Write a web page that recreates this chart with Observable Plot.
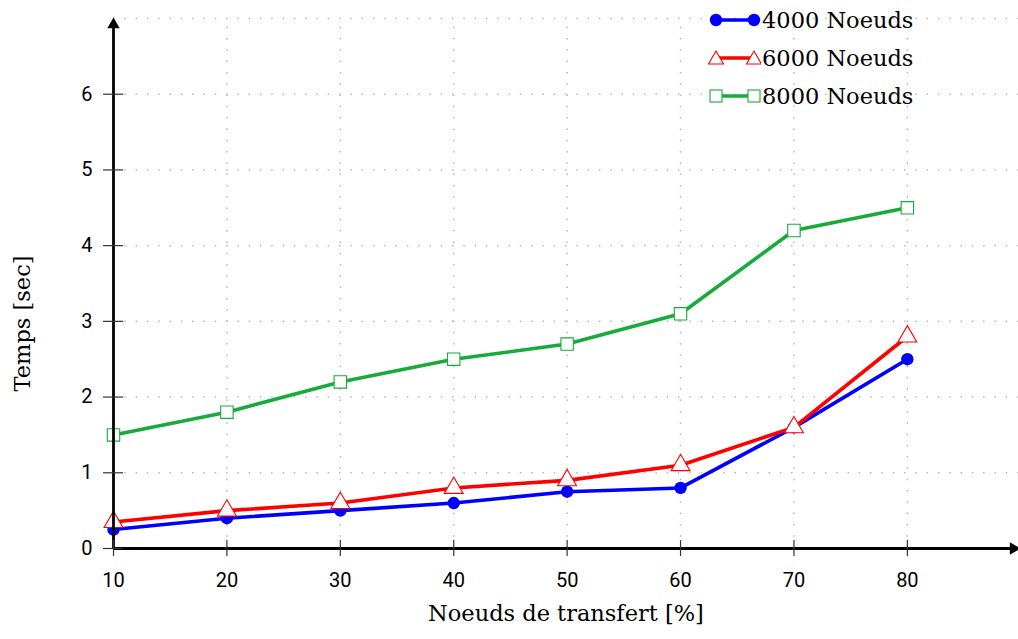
<!DOCTYPE html>
<html><head><meta charset="utf-8">
<script src="https://cdn.jsdelivr.net/npm/d3@7"></script>
<script src="https://cdn.jsdelivr.net/npm/@observablehq/plot@0.6"></script>
<style>
body{margin:0;background:#fff}
#wrap{position:relative;width:1018px;height:639px}
#legend{position:absolute;left:708px;top:1px;font-family:"DejaVu Serif",serif;font-size:22.5px;color:#000}
#legend .row{display:flex;align-items:center;height:38px}
#legend svg{display:block;margin-right:1px}
</style>
</head><body><div id="wrap"></div>
<script>
const xValues = [10, 20, 30, 40, 50, 60, 70, 80];
const s4000 = [0.25, 0.4, 0.5, 0.6, 0.75, 0.8, 1.6, 2.5];
const s6000 = [0.35, 0.5, 0.6, 0.8, 0.9, 1.1, 1.6, 2.8];
const s8000 = [1.5, 1.8, 2.2, 2.5, 2.7, 3.1, 4.2, 4.5];
const seriesNames = ["4000 Noeuds", "6000 Noeuds", "8000 Noeuds"];
const seriesColors = ["#0000ff", "#ff0000", "#18ab3b"];
const xTicks = [10, 20, 30, 40, 50, 60, 70, 80];
const yTicks = [0, 1, 2, 3, 4, 5, 6];
const xGrid = [20, 30, 40, 50, 60, 70, 80];
const yGrid = [1, 2, 3, 4, 5, 6, 7];
const xDomain = [10, 89.8];
const yDomain = [0, 7];
const xLabel = "Noeuds de transfert [%]";
const yLabel = "Temps [sec]";

const seriesValues = [s4000, s6000, s8000];
const data = seriesValues.map((vals, i) => vals.map((v, j) => ({x: xValues[j], y: v, s: seriesNames[i]})));

const gridStyle = {stroke: "#b8b8b8", strokeWidth: 1.5, strokeDasharray: "1.5,9.8"};
const symbols = ["circle", "triangle", "square"];

const marks = [
  Plot.ruleX(xGrid, {x: d => d, y1: yDomain[0], y2: yDomain[1], ...gridStyle}),
  Plot.ruleY(yGrid, {y: d => d, x1: xDomain[0], x2: xDomain[1], ...gridStyle}),
];
data.forEach((d, i) => {
  marks.push(Plot.line(d, {x: "x", y: "y", stroke: seriesColors[i], strokeWidth: 3.6}));
  if (i === 0) marks.push(Plot.dot(d, {x: "x", y: "y", r: 6.2, fill: seriesColors[i], stroke: "none"}));
  else marks.push(Plot.dot(d, {x: "x", y: "y", r: 7, symbol: symbols[i], fill: "white", stroke: seriesColors[i], strokeWidth: 1.1}));
});
marks.push(
  Plot.ruleY([0], {x1: xDomain[0], x2: xDomain[1] - 0.5, stroke: "black", strokeWidth: 2.8}),
  Plot.ruleX([xDomain[0]], {y1: 0, y2: yDomain[1] - 0.08, stroke: "black", strokeWidth: 2.8}),
  Plot.dot([0], {x: xDomain[1] - 0.45, y: 0, symbol: "triangle", rotate: 90, r: 4.6, fill: "black", stroke: "none"}),
  Plot.dot([0], {x: xDomain[0], y: yDomain[1] - 0.08, symbol: "triangle", r: 4.6, fill: "black", stroke: "none"}),
  Plot.ruleX(xTicks, {x: d => d, y1: -0.105, y2: 0.105, stroke: "#333", strokeWidth: 1.2}),
  Plot.ruleY(yTicks, {y: d => d, x1: 9.12, x2: 10.88, stroke: "#333", strokeWidth: 1.2}),
  Plot.axisX({ticks: xTicks, tickSize: 0, tickPadding: 24, fontSize: 20, tickFormat: d => d, fontFamily: "Roboto", label: null}),
  Plot.axisY({ticks: yTicks, tickSize: 0, tickPadding: 21, fontSize: 20, tickFormat: d => d, fontFamily: "Roboto", label: null}),
  Plot.text([xLabel], {text: d => d, frameAnchor: "bottom", dy: 72, fontSize: 22.5, fontFamily: "DejaVu Serif", fill: "black"}),
  Plot.text([yLabel], {text: d => d, frameAnchor: "left", textAnchor: "middle", dx: -91, dy: 40, rotate: -90, fontSize: 22.5, fontFamily: "DejaVu Serif", fill: "black"})
);

const chart = Plot.plot({
  width: 1018, height: 639,
  marginLeft: 113, marginRight: 0, marginTop: 18, marginBottom: 91,
  x: {domain: xDomain},
  y: {domain: yDomain},
  style: {background: "white", overflow: "visible"},
  marks
});
const wrap = document.getElementById("wrap");
wrap.appendChild(chart);

// legend
const legend = document.createElement("div");
legend.id = "legend";
seriesNames.forEach((name, i) => {
  const row = document.createElement("div");
  row.className = "row";
  const c = seriesColors[i];
  let sym;
  if (i === 0) sym = (cx) => `<circle cx="${cx}" cy="15" r="6.2" fill="${c}"/>`;
  else if (i === 1) sym = (cx) => `<path d="M${cx},8 L${cx+7.5},21 L${cx-7.5},21 Z" fill="white" stroke="${c}" stroke-width="1.1"/>`;
  else sym = (cx) => `<rect x="${cx-6}" y="9" width="12" height="12" fill="white" stroke="${c}" stroke-width="1.1"/>`;
  row.innerHTML = `<svg width="53" height="30"><line x1="7" y1="15" x2="46" y2="15" stroke="${c}" stroke-width="3.6"/>${sym(8)}${sym(46)}</svg><span>${name}</span>`;
  legend.appendChild(row);
});
wrap.appendChild(legend);
</script></body></html>
